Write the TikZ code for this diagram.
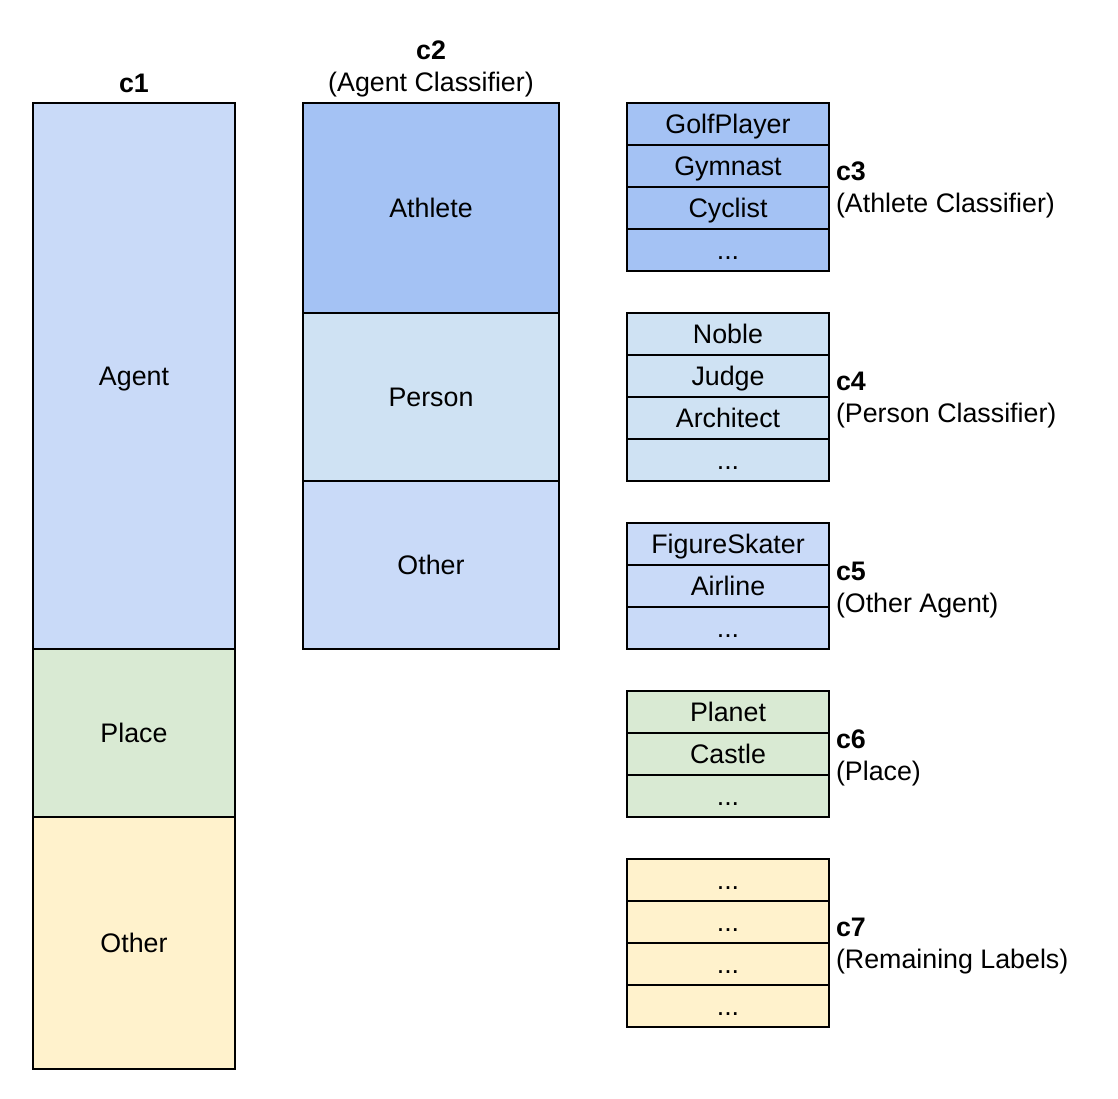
\documentclass[tikz,border=0pt]{standalone}
\usepackage{fontspec}
\setmainfont{Liberation Sans}
\usetikzlibrary{positioning}

\definecolor{agentblue}{HTML}{C9DAF8}
\definecolor{athblue}{HTML}{A4C2F4}
\definecolor{perblue}{HTML}{CFE2F3}
\definecolor{placegreen}{HTML}{D9EAD3}
\definecolor{restyellow}{HTML}{FFF2CC}

\begin{document}
\begin{tikzpicture}[x=0.5pt, y=-0.5pt]
	\useasboundingbox (0,0) rectangle (1118,1098);
	\begin{scope}
		\tikzstyle{every node}=[font=\fontsize{13.4}{16}\selectfont, inner sep=0pt, outer sep=0pt]
		\tikzstyle{cell}=[draw, line width=1pt, align=center, text height=0.96em, text depth=0pt]
		\tikzstyle{colA}=[cell, minimum width=101pt]
		\tikzstyle{colB}=[cell, minimum width=128pt]
		\tikzstyle{row}=[cell, minimum width=101pt, minimum height=21pt]
		\tikzstyle{tag}=[anchor=west, align=left]

		% c1
		\node (c1)    at (134, 83) {\textbf{c1}};
		\node (agent) [colA, fill=agentblue, minimum height=273pt] at (134, 376) {Agent};
		\node (place) [colA, fill=placegreen, minimum height=84pt, below=0pt of agent] {Place};
		\node (oth1)  [colA, fill=restyellow, minimum height=126pt, below=0pt of place] {Other};

		% c2
		\node (c2)   at (431, 69) [align=center] {\textbf{c2}\\(Agent Classifier)};
		\node (ath)  [colB, fill=athblue, minimum height=105pt] at (431, 208) {Athlete};
		\node (per)  [colB, fill=perblue, minimum height=84pt, below=0pt of ath] {Person};
		\node (oth2) [colB, fill=agentblue, minimum height=84pt, below=0pt of per] {Other};

		% c3
		\node (golf) [row, fill=athblue] at (728, 124) {GolfPlayer};
		\node (gym)  [row, fill=athblue, below=0pt of golf] {Gymnast};
		\node (cyc)  [row, fill=athblue, below=0pt of gym] {Cyclist};
		\node (dA)   [row, fill=athblue, below=0pt of cyc] {...};
		\node (c3)   [tag] at (836, 190) {\textbf{c3}\\(Athlete Classifier)};

		% c4
		\node (nob)  [row, fill=perblue] at (728, 334) {Noble};
		\node (jud)  [row, fill=perblue, below=0pt of nob] {Judge};
		\node (arch) [row, fill=perblue, below=0pt of jud] {Architect};
		\node (dB)   [row, fill=perblue, below=0pt of arch] {...};
		\node (c4)   [tag] at (836, 400) {\textbf{c4}\\(Person Classifier)};

		% c5
		\node (skat) [row, fill=agentblue] at (728, 544) {FigureSkater};
		\node (air)  [row, fill=agentblue, below=0pt of skat] {Airline};
		\node (dC)   [row, fill=agentblue, below=0pt of air] {...};
		\node (c5)   [tag] at (836, 590) {\textbf{c5}\\(Other Agent)};

		% c6
		\node (plan) [row, fill=placegreen] at (728, 712) {Planet};
		\node (cas)  [row, fill=placegreen, below=0pt of plan] {Castle};
		\node (dD)   [row, fill=placegreen, below=0pt of cas] {...};
		\node (c6)   [tag] at (836, 758) {\textbf{c6}\\(Place)};

		% c7
		\node (dE)   [row, fill=restyellow] at (728, 880) {...};
		\node (dF)   [row, fill=restyellow, below=0pt of dE] {...};
		\node (dG)   [row, fill=restyellow, below=0pt of dF] {...};
		\node (dH)   [row, fill=restyellow, below=0pt of dG] {...};
		\node (c7)   [tag] at (836, 946) {\textbf{c7}\\(Remaining Labels)};
	\end{scope}
\end{tikzpicture}
\end{document}
